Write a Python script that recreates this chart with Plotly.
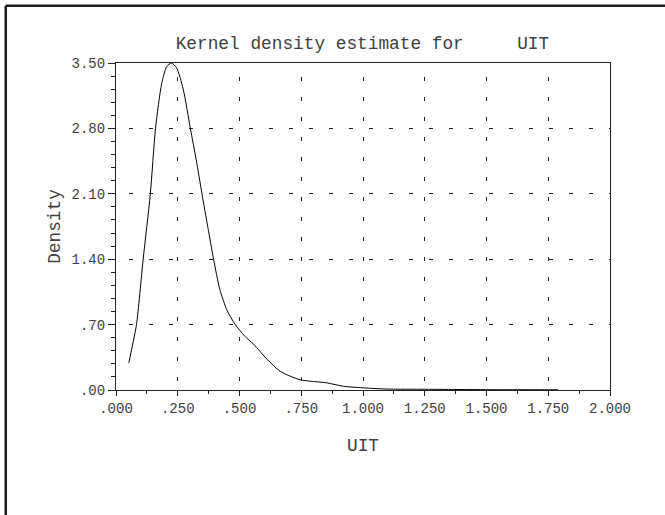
import plotly.graph_objects as go

# --- data ---
uit_x = [0.052, 0.066, 0.083, 0.110, 0.139, 0.160, 0.185, 0.205, 0.224,
         0.245, 0.272, 0.301, 0.325, 0.348, 0.372, 0.395, 0.420, 0.450, 0.483, 0.520,
         0.557, 0.611, 0.665, 0.745, 0.853, 0.920, 1.000, 1.100, 1.250, 1.400, 1.550, 1.700, 1.790]
density = [0.29, 0.47, 0.70, 1.40, 2.10, 2.80, 3.28, 3.46, 3.50,
           3.45, 3.22, 2.80, 2.46, 2.10, 1.74, 1.40, 1.08, 0.85, 0.70, 0.58,
           0.49, 0.33, 0.20, 0.11, 0.077, 0.04, 0.023, 0.010, 0.008, 0.005, 0.003, 0.003, 0.002]

x_tickvals = [0, 0.25, 0.5, 0.75, 1.0, 1.25, 1.5, 1.75, 2.0]
x_ticktext = [".000", ".250", ".500", ".750", "1.000", "1.250", "1.500", "1.750", "2.000"]
y_tickvals = [0, 0.7, 1.4, 2.1, 2.8, 3.5]
y_ticktext = [".00", ".70", "1.40", "2.10", "2.80", "3.50"]

title_text = "Kernel density estimate for" + "\u00a0" * 5 + "UIT"
x_title = "UIT"
y_title = "Density"

FONT = "Liberation Mono, Courier New, monospace"
TXT = "#404040"
LINE = "#222222"

fig = go.Figure()
fig.add_trace(go.Scatter(x=uit_x, y=density, mode="lines",
                         line=dict(color="black", width=1, shape="spline", smoothing=0.7),
                         hoverinfo="skip", showlegend=False))

axis_common = dict(showline=True, linecolor=LINE, linewidth=1.2, mirror=True,
                   ticks="outside", tickcolor=LINE, tickwidth=1,
                   tickfont=dict(family=FONT, size=14, color=TXT),
                   zeroline=False, showgrid=True, gridcolor="#222222", gridwidth=1)

fig.update_xaxes(range=[0, 2], tickmode="array", tickvals=x_tickvals, ticktext=x_ticktext,
                 ticklen=5,
                 minor=dict(dtick=0.125, tick0=0, ticks="outside", ticklen=3, tickcolor=LINE, showgrid=False),
                 griddash="0px,14px,4px,2px",
                 title=dict(text=x_title, font=dict(family=FONT, size=17.8, color=TXT), standoff=22),
                 **axis_common)
fig.update_yaxes(range=[0, 3.5], tickmode="array", tickvals=y_tickvals, ticktext=y_ticktext,
                 ticklen=7,
                 minor=dict(dtick=0.14, tick0=0, ticks="outside", ticklen=3.5, tickcolor=LINE, showgrid=False),
                 griddash="0px,13px,4px,3px",
                 title=dict(text=y_title, font=dict(family=FONT, size=17.8, color=TXT), standoff=6),
                 **axis_common)

fig.update_layout(
    width=665, height=515,
    margin=dict(l=115.5, r=54.5, t=62.7, b=124.5, autoexpand=False),
    paper_bgcolor="white", plot_bgcolor="white",
    title=dict(text=title_text, x=0.545, xanchor="center", y=1 - 43 / 515, yanchor="middle",
               font=dict(family=FONT, size=17.8, color=TXT)),
    shapes=[
        dict(type="line", xref="paper", yref="paper", x0=-0.2232, x1=-0.2232, y0=-0.5, y1=1.1753,
             line=dict(color="#1a1a1a", width=2.5)),
        dict(type="line", xref="paper", yref="paper", x0=-0.2232, x1=1.2, y0=1.1753, y1=1.1753,
             line=dict(color="#1a1a1a", width=2.5)),
    ],
)

fig.write_html("out.html", config={"displayModeBar": False},
               post_script="document.body.style.margin='0';")
